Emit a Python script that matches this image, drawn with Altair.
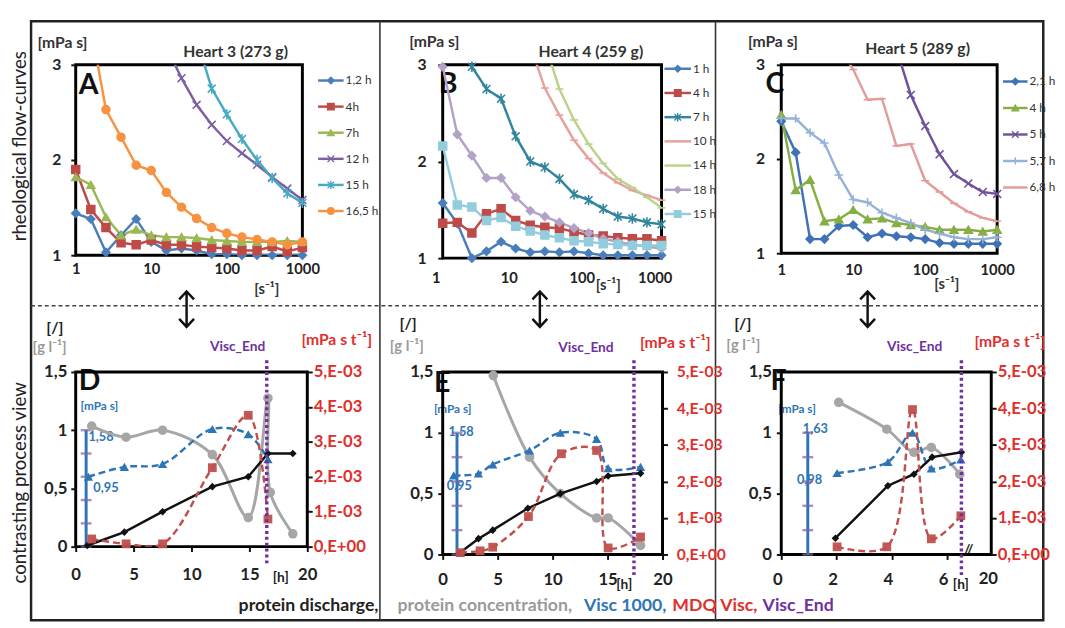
import altair as alt
import pandas as pd

FONT = "Lato"
ONE = pd.DataFrame({"k": [0]})

# ---------------- rheological flow curves (viscosity in mPa s vs shear rate) ----------------
SHEAR_RATE = [1, 1.585, 2.512, 3.981, 6.31, 10, 15.85, 25.12, 39.81, 63.1, 100, 158.5, 251.2, 398.1, 631, 1000]

A_NAMES = ["1,2 h", "4h", "7h", "12 h", "15 h", "16,5 h"]
A_1_2H = [1.44, 1.38, 1.03, 1.21, 1.38, 1.14, 1.05, 1.07, 1.05, 1.01, 1.01, 1.00, 1.00, 1.00, 1.00, 1.00]
A_4H = [1.90, 1.48, 1.29, 1.13, 1.11, 1.16, 1.11, 1.11, 1.09, 1.08, 1.07, 1.05, 1.05, 1.09, 1.04, 1.08]
A_7H = [1.82, 1.74, 1.40, 1.21, 1.27, 1.21, 1.19, 1.19, 1.18, 1.16, 1.15, 1.14, 1.14, 1.14, 1.15, 1.14]
A_12H = [None, None, None, None, None, None, 3.19, 2.86, 2.58, 2.37, 2.20, 2.07, 1.95, 1.82, 1.70, 1.58]
A_15H = [None, None, None, None, None, None, None, None, 3.27, 2.75, 2.48, 2.22, 2.00, 1.81, 1.65, 1.55]
A_16_5H = [None, 3.40, 2.53, 2.24, 1.945, 1.89, 1.66, 1.505, 1.385, 1.29, 1.23, 1.19, 1.165, 1.14, 1.11, 1.14]

B_NAMES = ["1 h", "4 h", "7 h", "10 h", "14 h", "18 h", "15 h"]
B_1H = [1.57, 1.36, 1.00, 1.07, 1.17, 1.10, 1.06, 1.07, 1.06, 1.07, 1.05, 1.03, 1.03, 1.03, 1.03, 1.03]
B_4H = [1.36, 1.37, 1.26, 1.46, 1.51, 1.39, 1.34, 1.32, 1.31, 1.27, 1.24, 1.23, 1.21, 1.20, 1.20, 1.18]
B_7H = [None, 3.20, 2.98, 2.75, 2.65, 2.26, 2.00, 1.94, 1.82, 1.66, 1.60, 1.51, 1.43, 1.41, 1.37, 1.35]
B_10H = [None, None, None, None, None, None, 3.20, 2.76, 2.48, 2.22, 2.03, 1.88, 1.78, 1.70, 1.65, 1.60]
B_14H = [None, None, None, None, None, None, None, 3.22, 2.75, 2.43, 2.18, 1.98, 1.82, 1.73, 1.63, 1.52]
B_18H = [2.98, 2.28, 2.06, 1.83, 1.83, 1.63, 1.49, 1.43, 1.37, 1.31, 1.26, 1.20, 1.17, 1.14, 1.12, 1.10]
B_15H = [2.16, 1.55, 1.53, 1.39, 1.42, 1.33, 1.28, 1.24, 1.21, 1.18, 1.17, 1.15, 1.14, 1.13, 1.13, 1.13]

C_NAMES = ["2,1 h", "4 h", "5 h", "5,7 h", "6,8 h"]
C_2_1H = [2.40, 2.07, 1.15, 1.15, 1.29, 1.30, 1.17, 1.21, 1.18, 1.17, 1.15, 1.11, 1.10, 1.10, 1.10, 1.10]
C_4H = [2.47, 1.67, 1.78, 1.34, 1.36, 1.46, 1.36, 1.37, 1.32, 1.30, 1.28, 1.25, 1.25, 1.25, 1.23, 1.25]
C_5H = [None, None, None, None, None, None, None, None, 3.17, 2.68, 2.35, 2.05, 1.84, 1.74, 1.65, 1.63]
C_5_7H = [2.43, 2.43, 2.28, 2.17, 1.83, 1.57, 1.54, 1.43, 1.375, 1.32, 1.25, 1.21, 1.17, 1.15, 1.15, 1.17]
C_6_8H = [None, None, None, None, 3.20, 2.95, 2.63, 2.64, 2.14, 2.16, 1.77, 1.65, 1.53, 1.44, 1.375, 1.34]

# ---------------- process view ----------------
D_DIS_T = [1.0, 4.2, 7.5, 11.8, 14.9, 16.6, 18.75]
D_DIS = [0.01, 0.125, 0.30, 0.515, 0.60, 0.80, 0.80]
D_CON_T = [1.38, 4.35, 7.5, 11.8, 14.9, 16.6, 16.8, 18.75]
D_CON = [1.035, 0.94, 1.0, 0.79, 0.25, 1.275, 0.466, 0.11]
D_VIS_T = [1.1, 4.2, 7.5, 11.8, 14.9, 16.6]
D_VIS = [0.60, 0.685, 0.71, 1.01, 0.965, 0.75]
D_MDQ_T = [1.38, 4.35, 7.5, 11.8, 14.9, 16.6]
D_MDQ = [0.22, 0.08, 0.08, 2.26, 3.76, 0.79]
D_END = 16.5

E_DIS_T = [1.5, 3.25, 4.55, 7.75, 10.7, 14.0, 15.05, 18.0]
E_DIS = [0.01, 0.13, 0.20, 0.38, 0.50, 0.60, 0.645, 0.667]
E_CON_T = [4.6, 7.9, 10.7, 14.0, 15.05, 18.0]
E_CON = [1.47, 0.80, 0.50, 0.30, 0.30, 0.075]
E_VIS_T = [1.0, 3.25, 4.55, 7.9, 10.7, 14.0, 15.05, 18.0]
E_VIS = [0.65, 0.665, 0.74, 0.855, 1.0, 0.95, 0.71, 0.72]
E_MDQ_T = [1.6, 3.4, 4.55, 7.8, 10.8, 14.0, 15.05, 18.0]
E_MDQ = [0.05, 0.10, 0.20, 1.04, 2.76, 2.85, 0.18, 0.48]
E_END = 17.4

F_DIS_T = [1.96, 3.86, 4.8, 5.46, 6.52]
F_DIS = [0.134, 0.565, 0.66, 0.80, 0.84]
F_CON_T = [2.08, 3.82, 4.8, 5.43, 6.46]
F_CON = [1.25, 1.03, 0.84, 0.88, 0.66]
F_VIS_T = [2.02, 3.86, 4.75, 5.43, 6.5]
F_VIS = [0.67, 0.76, 1.0, 0.707, 0.78]
F_MDQ_T = [2.02, 3.82, 4.75, 5.43, 6.5]
F_MDQ = [0.21, 0.21, 3.97, 0.43, 1.06]
F_END = 6.52

BAR_TICKS = [0, 0.2, 0.4, 0.6, 0.8, 1.0]

# ---------------- styles ----------------
SHP_X = "M-1,-1L1,1M-1,1L1,-1"
SHP_AST = "M-1,-1L1,1M-1,1L1,-1M0,-1.3L0,1.3"
SHP_PLUS = "M-1.1,0L1.1,0M0,-1.1L0,1.1"
SHP_DASH = "M-1,0L1,0"
ARROW = "M0,-1L0,1M-0.42,-0.55L0,-1L0.42,-0.55M-0.42,0.55L0,1L0.42,0.55"
T = "transparent"

A_COLORS = ["#4A7EBB", "#BE4B48", "#98B954", "#7D60A0", "#46AAC5", "#F69240"]
A_SHAPES = ["diamond", "square", "triangle-up", SHP_X, SHP_AST, "circle"]
A_FILLS = ["#4A7EBB", "#BE4B48", "#98B954", T, T, "#F69240"]

B_COLORS = ["#4A7EBB", "#BE4B48", "#31859C", "#E6A09E", "#B9D48A", "#B3A2C7", "#93CDDD"]
B_SHAPES = ["diamond", "square", SHP_AST, SHP_DASH, SHP_DASH, "diamond", "square"]
B_FILLS = ["#4A7EBB", "#BE4B48", T, T, T, "#B3A2C7", "#93CDDD"]

C_COLORS = ["#3F72B5", "#86AE45", "#6F529A", "#95B3D7", "#E29C9A"]
C_SHAPES = ["diamond", "triangle-up", SHP_X, SHP_PLUS, SHP_DASH]
C_FILLS = ["#3F72B5", "#86AE45", T, T, T]

BLACK = "#111111"
GREY = "#A6A6A6"
BLUE = "#2E75B6"
RED = "#C0504D"
RED_TXT = "#E0302D"
PURPLE = "#7030A0"
PURPLE_T = "#8064A2"
BOX = alt.ViewBackground(stroke="#000000", strokeWidth=3)


def flow_panel(names, values, colors, shapes, fills, w, h, leg_rng, leg_x, xpad, xoff, ypad):
    rows = []
    for n, vals in zip(names, values):
        for s, v in zip(SHEAR_RATE, vals):
            if v is not None:
                rows.append({"series": n, "x": s, "y": v})
    df = pd.DataFrame(rows)
    X = alt.X("x:Q", scale=alt.Scale(type="log", domain=[1, 1000], nice=False),
              axis=alt.Axis(values=[1, 10, 100, 1000], labelExpr="format(datum.value, 'd')",
                            ticks=False, tickSize=0, labelPadding=xpad, labelOffset=xoff,
                            labelFlush=False, labelOverlap=False, labelFontSize=15, title=None))
    Y = alt.Y("y:Q", scale=alt.Scale(domain=[1, 3], nice=False, zero=False),
              axis=alt.Axis(values=[1, 2, 3], orient="left", tickSize=5, labelPadding=ypad,
                            labelExpr="format(datum.value, 'd')",
                            labelFontSize=16, labelOverlap=False, title=None))
    color = alt.Color("series:N", scale=alt.Scale(domain=names, range=colors), legend=None)
    shape = alt.Shape("series:N", scale=alt.Scale(domain=names, range=shapes), legend=None)
    fill = alt.Fill("series:N", scale=alt.Scale(domain=names, range=fills), legend=None)
    stroke = alt.Stroke("series:N", scale=alt.Scale(domain=names, range=colors), legend=None)
    lines = alt.Chart(df).mark_line(strokeWidth=2.5, clip=True).encode(x=X, y=Y, color=color)
    pts = alt.Chart(df).transform_filter("datum.y <= 3.02").mark_point(
        filled=True, opacity=1, size=65, strokeWidth=1.6).encode(
        x=X, y=Y, shape=shape, fill=fill, stroke=stroke)
    leg = pd.DataFrame({"series": names})
    LY = alt.Y("series:N", scale=alt.Scale(type="point", domain=names, range=leg_rng, padding=0), axis=None)
    lx0, lx1 = leg_x
    leg_line = alt.Chart(leg).mark_rule(strokeWidth=2.5).encode(
        x=alt.value(lx0), x2=alt.value(lx1), y=LY, color=color)
    leg_pt = alt.Chart(leg).mark_point(filled=True, opacity=1, size=45, strokeWidth=1.4).encode(
        x=alt.value((lx0 + lx1) / 2), y=LY, shape=shape, fill=fill, stroke=stroke)
    leg_txt = alt.Chart(leg).mark_text(align="left", baseline="middle", font=FONT, fontSize=12,
                                       color="#333333").encode(x=alt.value(lx1 + 2), y=LY, text="series:N")
    return alt.layer(alt.layer(lines, pts), alt.layer(leg_line, leg_pt, leg_txt)).resolve_scale(
        y="independent").properties(width=w, height=h, view=BOX)


def process_panel(dis_t, dis, con_t, con, vis_t, vis, mdq_t, mdq, end_t, bar_x, w, h,
                  xdom, xvals, xpad, xoff, ylpad, yrpad, end_y2, rsize):
    X = alt.X("t:Q", scale=alt.Scale(domain=xdom, nice=False, zero=False),
              axis=alt.Axis(values=xvals, orient="bottom", tickSize=5, labelPadding=xpad,
                            labelOffset=xoff, labelFlush=False, labelOverlap=False,
                            labelFontSize=17, title=None))
    YL = alt.Y("v:Q", scale=alt.Scale(domain=[0, 1.5], nice=False, zero=False),
               axis=alt.Axis(values=[0, 0.5, 1, 1.5], orient="left", tickSize=5, labelPadding=ylpad,
                             labelFontSize=17, labelOverlap=False,
                             labelExpr="replace(format(datum.value, '~g'), '.', ',')", title=None))
    YR = alt.Y("m:Q", scale=alt.Scale(domain=[0, 5], nice=False, zero=False),
               axis=alt.Axis(values=[0, 1, 2, 3, 4, 5], orient="right", tickSize=5, labelPadding=yrpad,
                             labelFontSize=rsize, labelColor=RED_TXT, labelOverlap=False,
                             labelExpr="datum.value == 0 ? '0,E+00' : format(datum.value, 'd') + ',E-03'",
                             title=None))
    dis_df = pd.DataFrame({"t": dis_t, "v": dis})
    con_df = pd.DataFrame({"t": con_t, "v": con})
    vis_df = pd.DataFrame({"t": vis_t, "v": vis})
    mdq_df = pd.DataFrame({"t": mdq_t, "m": mdq})
    bar_df = pd.DataFrame({"t": [bar_x], "v": [BAR_TICKS[0]], "v2": [BAR_TICKS[-1]]})
    tick_df = pd.DataFrame({"t": [bar_x] * len(BAR_TICKS), "v": BAR_TICKS})
    end_df = pd.DataFrame({"t": [end_t]})

    bar = alt.Chart(bar_df).mark_rule(color=BLUE, strokeWidth=3).encode(x=X, y=YL, y2=alt.Y2("v2:Q"))
    bar_ticks = alt.Chart(tick_df).mark_tick(orient="horizontal", size=11, thickness=2.5,
                                             color=PURPLE_T).encode(x=X, y=YL)
    grey_line = alt.Chart(con_df).mark_line(color=GREY, strokeWidth=3, interpolate="catmull-rom",
                                            clip=True).encode(x=X, y=YL)
    grey_pts = alt.Chart(con_df).mark_point(filled=True, opacity=1, shape="circle", size=95,
                                            color=GREY).encode(x=X, y=YL)
    blue_line = alt.Chart(vis_df).mark_line(color=BLUE, strokeWidth=2.5, strokeDash=[7, 4],
                                            interpolate="catmull-rom", clip=True).encode(x=X, y=YL)
    blue_pts = alt.Chart(vis_df).mark_point(filled=True, opacity=1, shape="triangle-up", size=90,
                                            color=BLUE).encode(x=X, y=YL)
    black_line = alt.Chart(dis_df).mark_line(color=BLACK, strokeWidth=2.5, clip=True).encode(x=X, y=YL)
    black_pts = alt.Chart(dis_df).mark_point(filled=True, opacity=1, shape="diamond", size=60,
                                             color=BLACK).encode(x=X, y=YL)
    red_line = alt.Chart(mdq_df).mark_line(color=RED, strokeWidth=2.5, strokeDash=[7, 4],
                                           interpolate="catmull-rom", clip=True).encode(x=X, y=YR)
    red_pts = alt.Chart(mdq_df).mark_point(filled=True, opacity=0.95, shape="square", size=80,
                                           color=RED).encode(x=X, y=YR)
    end_rule = alt.Chart(end_df).mark_rule(color=PURPLE, strokeWidth=3.5, strokeDash=[3, 3]).encode(
        x=X, y=alt.value(-12), y2=alt.value(h + end_y2))
    left = alt.layer(bar, bar_ticks, grey_line, grey_pts, blue_line, blue_pts, black_line, black_pts)
    right = alt.layer(red_line, red_pts)
    return alt.layer(left, right, end_rule).resolve_scale(y="independent").properties(
        width=w, height=h, view=BOX)


def txt(s, x, y, size=14, color="#222222", weight="bold", align="left", baseline="middle", angle=0):
    kw = dict(text=s, font=FONT, fontSize=size, color=color, fontWeight=weight, align=align,
              baseline=baseline)
    if angle:
        kw["angle"] = angle
    return alt.Chart(ONE).mark_text(**kw).encode(x=alt.value(x), y=alt.value(y))


def spacer(w, h):
    return alt.Chart(ONE).mark_text(text=" ").properties(width=w, height=h)


# ---------------- decoration (frame, labels, captions) ----------------
deco_marks = [
    alt.Chart(ONE).mark_rect(fill="transparent", stroke="#222222", strokeWidth=2.5).encode(
        x=alt.value(23.5), x2=alt.value(1055), y=alt.value(1.5), y2=alt.value(612)),
    alt.Chart(ONE).mark_rule(color="#333333", strokeWidth=1.6).encode(
        x=alt.value(379), y=alt.value(1.5), y2=alt.value(612)),
    alt.Chart(ONE).mark_rule(color="#333333", strokeWidth=1.6).encode(
        x=alt.value(721), y=alt.value(1.5), y2=alt.value(612)),
    alt.Chart(ONE).mark_rule(color="#444444", strokeWidth=1.4, strokeDash=[4, 3]).encode(
        x=alt.value(23.5), x2=alt.value(1055), y=alt.value(291.5)),
]
for ax in (182, 542, 876):
    deco_marks.append(alt.Chart(ONE).mark_point(shape=ARROW, size=1296, filled=False, color="#111111",
                                                strokeWidth=2.5, opacity=1).encode(
        x=alt.value(ax), y=alt.value(295)))

deco_marks += [
    txt("rheological flow-curves", 12, 129, size=19, weight="normal", align="center", angle=270),
    txt("contrasting process view", 12, 472, size=19, weight="normal", align="center", angle=270),
    txt("Heart 3 (273 g)", 232, 33, size=16, color="#333333", align="center"),
    txt("Heart 4 (259 g)", 594, 33, size=16, color="#333333", align="center"),
    txt("Heart 5 (289 g)", 927, 30, size=16, color="#333333", align="center"),
    txt("[mPa s]", 30, 24, size=16, color="#333333"),
    txt("[mPa s]", 409, 23, size=16, color="#333333"),
    txt("[mPa s]", 754, 23, size=16, color="#333333"),
    txt("[s⁻¹]", 251, 275, size=15, color="#333333"),
    txt("[s⁻¹]", 599, 270, size=15, color="#333333"),
    txt("[s⁻¹]", 944, 269, size=15, color="#333333"),
]
for letter, lx, ly in [("A", 72, 76), ("B", 439, 75), ("C", 772, 75), ("D", 72, 377), ("E", 434, 379), ("F", 777, 377)]:
    deco_marks.append(txt(letter, lx, ly, size=29, color="#111111", baseline="alphabetic"))

for (sx, sy), (gx, gy), (mx, my), (vx, vy), (hx, hy), (bx, by), (v1, p1), (v2, p2) in [
    ((39, 314), (25, 334), (299, 327), (234, 334), (278, 569), (74, 394), ("1,58", (82, 425)), ("0,95", (87, 477))),
    ((399, 310), (389, 333), (644, 330), (589, 335), (628, 576), (434, 397), ("1,58", (449, 420)), ("0,95", (447, 475))),
    ((740, 310), (732, 332), (985, 329), (924, 334), (971, 576), (785, 397), ("1,63", (810, 417)), ("0,98", (804, 469))),
]:
    deco_marks += [
        txt("[/]", sx, sy, size=16),
        txt("[g l⁻¹]", gx, gy, size=15, color="#9A9A9A"),
        txt("[mPa s t⁻¹]", mx, my, size=16, color=RED_TXT),
        txt("Visc_End", vx, vy, size=14, color=PURPLE, align="center"),
        txt("[h]", hx, hy, size=14, align="center"),
        txt("[mPa s]", bx, by, size=12, color=BLUE),
        txt(v1, p1[0], p1[1], size=13, color=BLUE),
        txt(v2, p2[0], p2[1], size=13, color=BLUE),
    ]
deco_marks += [
    txt("20", 999, 570, size=17, align="center"),
    txt("//", 979, 540, size=14, align="center"),
    txt("protein discharge,", 235, 598, size=18),
    txt("protein concentration,", 397, 598, size=18, color="#9A9A9A"),
    txt("Visc 1000,", 587, 598, size=18, color=BLUE),
    txt("MDQ Visc,", 677, 598, size=18, color=RED_TXT),
    txt("Visc_End", 769, 598, size=18, color=PURPLE),
]
deco = alt.layer(*deco_marks).properties(width=1, height=1)

# ---------------- panels ----------------
pA = flow_panel(A_NAMES, [A_1_2H, A_4H, A_7H, A_12H, A_15H, A_16_5H], A_COLORS, A_SHAPES, A_FILLS,
                231, 194, [16, 149], (247, 273), 7, 0, 10)
pB = flow_panel(B_NAMES, [B_1H, B_4H, B_7H, B_10H, B_14H, B_18H, B_15H], B_COLORS, B_SHAPES, B_FILLS,
                223, 197, [4, 152], (226, 253), 13, -7, 12)
pC = flow_panel(C_NAMES, [C_2_1H, C_4H, C_5H, C_5_7H, C_6_8H], C_COLORS, C_SHAPES, C_FILLS,
                220, 192, [17, 125], (226, 251), 10, 0, 12)

pD = process_panel(D_DIS_T, D_DIS, D_CON_T, D_CON, D_VIS_T, D_VIS, D_MDQ_T, D_MDQ, D_END, 0.9,
                   236, 178, [0, 20], [0, 5, 10, 15, 20], 16, 0, 4, 1, 19, 17)
pE = process_panel(E_DIS_T, E_DIS, E_CON_T, E_CON, E_VIS_T, E_VIS, E_MDQ_T, E_MDQ, E_END, 1.3,
                   224, 186, [0, 20], [0, 5, 10, 15, 20], 13, 0, 5, 9, 24, 16)
pF = process_panel(F_DIS_T, F_DIS, F_CON_T, F_CON, F_VIS_T, F_VIS, F_MDQ_T, F_MDQ, F_END, 0.96,
                   214, 186, [0, 7.6], [0, 2, 4, 6], 13, -4, 5, 1, 24, 17)

cells = [
    deco, spacer(1, 46), spacer(1, 1), spacer(1, 45), spacer(1, 1), spacer(1, 44),
    spacer(67, 1), pA, spacer(138, 1), pB, spacer(112, 1), pC,
    spacer(1, 1), spacer(1, 112), spacer(1, 1), spacer(1, 110), spacer(1, 1), spacer(1, 116),
    spacer(69, 1), pD, spacer(125, 1), pE, spacer(121, 1), pF,
]

chart = alt.concat(*cells, columns=6, spacing=0, bounds="flush", align="none").resolve_scale(
    color="independent", shape="independent", fill="independent", stroke="independent"
).properties(
    padding=0, background="white"
).configure_view(strokeWidth=0).configure_axis(
    labelFont=FONT, labelFontWeight="bold", labelColor="#222222", tickColor="#111111", tickWidth=2,
    domain=False, grid=False
)

chart.save("out.html", embed_options={"renderer": "svg", "actions": False})
